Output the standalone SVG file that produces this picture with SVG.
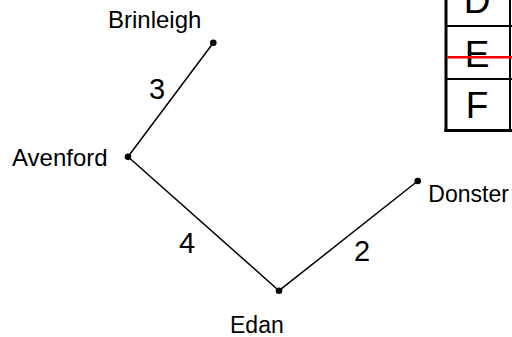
<svg xmlns="http://www.w3.org/2000/svg" width="512" height="337" viewBox="0 0 512 337">
<style>
.lbl{font-family:"Liberation Sans",Arial,sans-serif;font-size:23px;fill:#000}
.big{font-size:24px}
.num{font-family:"Liberation Sans",Arial,sans-serif;font-size:29px;fill:#000;text-anchor:middle}
.cell{font-family:"Liberation Sans",Arial,sans-serif;font-size:37px;fill:#000;text-anchor:middle}
.edge{stroke:#000;stroke-width:1.5;fill:none}
.dot{fill:#000}
.grid{stroke:#000;fill:none}
</style>
<rect width="512" height="337" fill="#fff"/>
<g id="table">
<text class="cell" x="477" y="13.3">D</text>
<text class="cell" x="477" y="66.7">E</text>
<text class="cell" x="477" y="118.3">F</text>
<line class="grid" x1="446" y1="26" x2="512" y2="26" stroke-width="2"/>
<line class="grid" x1="446" y1="79" x2="512" y2="79" stroke-width="2"/>
<line class="grid" x1="510" y1="0" x2="510" y2="131" stroke-width="2"/>
<line class="grid" x1="444.5" y1="130.5" x2="512" y2="130.5" stroke-width="3"/>
<line class="grid" x1="446" y1="0" x2="446" y2="132" stroke-width="3"/>
<line x1="447" y1="57.3" x2="512" y2="57.3" stroke="#f00" stroke-width="2.5"/>
</g>
<g id="connectors">
<line class="edge" x1="128" y1="156.7" x2="213.3" y2="42.7"/>
<line class="edge" x1="128" y1="156.7" x2="279" y2="290.7"/>
<line class="edge" x1="279" y1="290.7" x2="417.7" y2="181"/>
<text class="num" x="157" y="99">3</text>
<text class="num" x="187" y="253">4</text>
<text class="num" x="362" y="260.7">2</text>
</g>
<g id="node-brinleigh">
<circle class="dot" cx="213.3" cy="42.7" r="3.3"/>
<text class="lbl big" x="108" y="28.3">Brinleigh</text>
</g>
<g id="node-avenford">
<circle class="dot" cx="128" cy="156.7" r="3.3"/>
<text class="lbl big" x="12" y="165.7">Avenford</text>
</g>
<g id="node-edan">
<circle class="dot" cx="279" cy="290.7" r="3.3"/>
<text class="lbl" x="230" y="332.7">Edan</text>
</g>
<g id="node-donster">
<circle class="dot" cx="417.7" cy="181" r="3.3"/>
<text class="lbl" x="428.3" y="201.7">Donster</text>
</g>
</svg>
